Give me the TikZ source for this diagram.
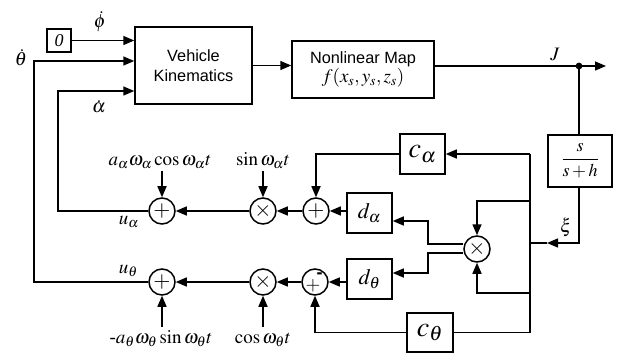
\documentclass[tikz,border=0pt]{standalone}
\usepackage{mathptmx}
\usepackage{fontspec}
\setmainfont{Liberation Serif}
\setsansfont{Liberation Sans}
\usetikzlibrary{arrows.meta,calc}
\begin{document}
\begin{tikzpicture}[x=1pt,y=-1pt,line width=1.5pt,
  arr/.style={-{Triangle[length=11pt,width=9pt]}},
  blk/.style={draw,rectangle,inner sep=0pt,minimum width=#1},
  sum/.style={draw,circle,inner sep=0pt,minimum size=26pt,font=\fontsize{22}{24}\selectfont},
  lbl/.style={inner sep=0pt,font=\fontsize{19}{22}\selectfont},
  sans/.style={font=\sffamily\fontsize{16.3}{20}\selectfont,align=center}]
\useasboundingbox (0,0) rectangle (628,355);
% blocks
\node[blk=24pt,minimum height=23pt,font=\fontsize{18}{20}\selectfont] (zero) at (59,40.5) {\textit{0}};
\node[blk=117pt,minimum height=77pt,sans] (vk) at (193.5,65.5) {Vehicle\\Kinematics};
\node[blk=142pt,minimum height=57pt,sans] (nlm) at (363,69.5) {Nonlinear Map\\[-1pt]{\rmfamily\fontsize{19}{20}\selectfont$f(x_s,y_s,z_s)$}};
\node[blk=64pt,minimum height=52pt,font=\fontsize{18}{20}\selectfont] (sh) at (580,161) {$\displaystyle\frac{s}{s+h}$};
\node[blk=45pt,minimum height=40pt,font=\fontsize{28}{30}\selectfont] (ca) at (422.5,154) {$c_\alpha$};
\node[blk=45pt,minimum height=40pt,font=\fontsize{22}{24}\selectfont] (da) at (369.5,213) {$d_\alpha$};
\node[blk=45pt,minimum height=40pt,font=\fontsize{22}{24}\selectfont] (dt) at (369.5,279) {$d_\theta$};
\node[blk=46pt,minimum height=39pt,font=\fontsize{28}{30}\selectfont] (ct) at (430,332.5) {$c_\theta$};
% junctions
\node[sum] (A1) at (162,211) {$+$};
\node[sum] (A2) at (263,211) {$\times$};
\node[sum] (A3) at (316,211) {$+$};
\node[sum] (T1) at (162,282) {$+$};
\node[sum] (T2) at (263,282) {$\times$};
\node[sum] (T3) at (315,282) {};
\node[inner sep=0pt,font=\fontsize{19}{20}\selectfont] (T3p) at ($(T3)+(-2,3.5)$) {$+$};
\node[inner sep=0pt,font=\sffamily\bfseries\fontsize{18}{20}\selectfont] (T3m) at ($(T3)+(4.5,-6.5)$) {-};
\node[sum] (M) at (477,249) {$\times$};
% coordinates
\coordinate (jdot) at (579,66);
\coordinate (jend) at (606,66);
\coordinate (xi) at (547,243);
\coordinate (bxi) at (530,243);
\coordinate (btop) at (530,154);
\coordinate (bm1) at (530,201);
\coordinate (bm2) at (530,293);
\coordinate (bbot) at (530,332.5);
\coordinate (kthe) at (34,282);
\coordinate (kalp) at (58,211);
\coordinate (sa) at (428,244);
\coordinate (st) at (428,253);
% connectors
\draw[arr] (zero.east) -- (zero.east-|vk.west);
\draw[arr] (T1.west) -- (kthe) |- ([yshift=4.5pt]vk.west);
\draw[arr] (A1.west) -- (kalp) |- ([yshift=-25.5pt]vk.west);
\draw[arr] (vk.east) -- (vk.east-|nlm.west);
\draw[arr] ([yshift=3.5pt]nlm.east) -- (jend);
\fill (jdot) circle (3.4pt);
\draw (jdot) -- (jdot|-sh.north);
\draw[arr] (jdot|-sh.south) |- (xi);
\draw (xi) -- (bxi);
\draw (btop) -- (bbot) -- (ct.east);
\draw[arr] (btop) -- (ca.east);
\draw[arr] (bm1) -| (M.north);
\draw[arr] (bm2) -| (M.south);
\draw[arr] (ca.west) -| (A3.north);
\draw[arr] (ct.west) -| (T3.south);
\draw[arr] ([yshift=5pt]M.west) -- (sa) |- ([yshift=-8pt]da.east);
\draw[arr] ([yshift=-4pt]M.west) -- (st) |- ([yshift=6pt]dt.east);
\draw[arr] (da.west|-A3) -- (A3.east);
\draw[arr] (A3.west) -- (A2.east);
\draw[arr] (A2.west) -- (A1.east);
\draw[arr] (dt.west|-T3) -- (T3.east);
\draw[arr] (T3.west) -- (T2.east);
\draw[arr] (T2.west) -- (T1.east);
% input labels with arrows
\node[lbl,anchor=base] (la) at (160,166) {$a_\alpha\omega_\alpha\cos\omega_\alpha t$};
\node[lbl,anchor=base] (ls) at (263,166) {$\sin\omega_\alpha t$};
\node[lbl,anchor=base] (lt1) at (161,343) {-$a_\theta\omega_\theta\sin\omega_\theta t$};
\node[lbl,anchor=base] (lt2) at (263,343) {$\cos\omega_\theta t$};
\draw[arr] ([yshift=-5pt]A1|-la.base) -- (A1.north);
\draw[arr] ([yshift=-5pt]A2|-ls.base) -- (A2.north);
\draw[arr] (T1|-0,327) -- (T1.south);
\draw[arr] (T2|-0,327) -- (T2.south);
% signal labels
\node[lbl,anchor=base] (lphi) at (100,28) {$\dot\phi$};
\node[lbl,anchor=base] (lthe) at (21,66) {$\dot\theta$};
\node[lbl,anchor=base] (lalp) at (99,113) {$\dot\alpha$};
\node[lbl,anchor=base] (lJ) at (555,61) {$J$};
\node[lbl,anchor=base] (lxi) at (566,232) {$\xi$};
\node[lbl,anchor=base west] (lua) at (118,225) {$u_\alpha$};
\node[lbl,anchor=base west] (lut) at (118,273) {$u_\theta$};
\end{tikzpicture}
\end{document}
